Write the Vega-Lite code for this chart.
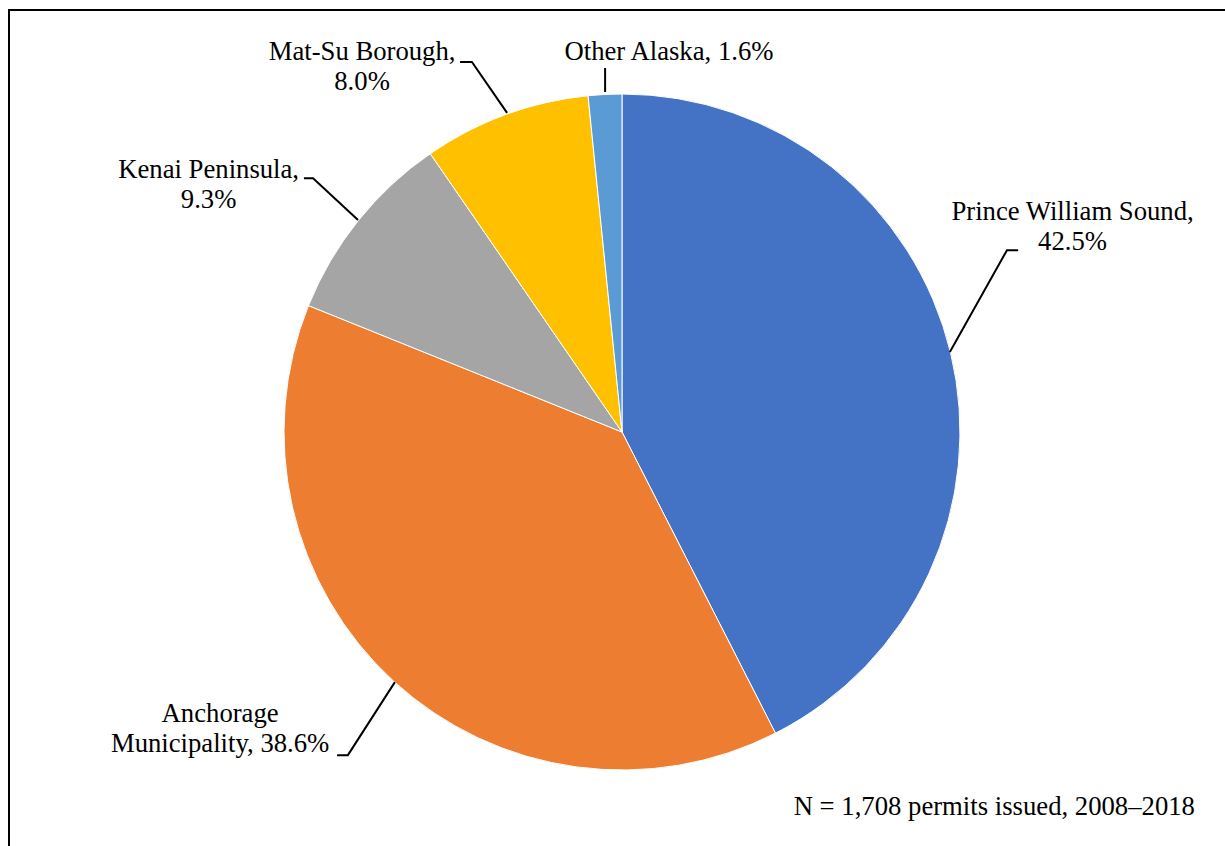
{
  "$schema": "https://vega.github.io/schema/vega-lite/v6.json",
  "width": 1226,
  "height": 844,
  "padding": {"left": 9, "top": 10, "right": 0, "bottom": 0},
  "background": "white",
  "config": {"view": {"stroke": "#000", "strokeWidth": 2}},
  "datasets": {
    "slices": [
      {"region": "Prince William Sound", "pct": 42.5, "ord": 1},
      {"region": "Anchorage Municipality", "pct": 38.6, "ord": 2},
      {"region": "Kenai Peninsula", "pct": 9.3, "ord": 3},
      {"region": "Mat-Su Borough", "pct": 8.0, "ord": 4},
      {"region": "Other Alaska", "pct": 1.6, "ord": 5}
    ],
    "leaders": [
      {"seg": "pws", "pt": 1, "lx": 117.2, "ly": 53.8},
      {"seg": "pws", "pt": 2, "lx": 113.9, "ly": 53.8},
      {"seg": "pws", "pt": 3, "lx": 97.0, "ly": 23.7},
      {"seg": "anc", "pt": 1, "lx": -84.3, "ly": -95.6},
      {"seg": "anc", "pt": 2, "lx": -81.1, "ly": -95.6},
      {"seg": "anc", "pt": 3, "lx": -67.2, "ly": -74.0},
      {"seg": "ken", "pt": 1, "lx": -94.1, "ly": 75.1},
      {"seg": "ken", "pt": 2, "lx": -91.4, "ly": 75.1},
      {"seg": "ken", "pt": 3, "lx": -78.1, "ly": 62.7},
      {"seg": "mat", "pt": 1, "lx": -47.9, "ly": 109.5},
      {"seg": "mat", "pt": 2, "lx": -44.4, "ly": 109.5},
      {"seg": "mat", "pt": 3, "lx": -34.0, "ly": 94.4},
      {"seg": "oth", "pt": 1, "lx": -5.0, "ly": 107.7},
      {"seg": "oth", "pt": 2, "lx": -5.0, "ly": 100.6}
    ],
    "labels": [
      {"txt": "Prince William Sound,\n42.5%", "lx": 133.3, "ly": 62.7},
      {"txt": "Anchorage\nMunicipality, 38.6%", "lx": -118.9, "ly": -85.8},
      {"txt": "Kenai Peninsula,\n9.3%", "lx": -122.3, "ly": 75.1},
      {"txt": "Mat-Su Borough,\n8.0%", "lx": -76.9, "ly": 110.1},
      {"txt": "Other Alaska, 1.6%", "lx": 13.9, "ly": 110.1}
    ],
    "notes": [
      {"txt": "N = 1,708 permits issued, 2008–2018", "lx": 169.5, "ly": -113.3}
    ]
  },
  "layer": [
    {
      "data": {"name": "slices"},
      "mark": {"type": "arc", "outerRadius": 338, "stroke": "white", "strokeWidth": 1},
      "encoding": {
        "theta": {"field": "pct", "type": "quantitative", "stack": true},
        "order": {"field": "ord", "type": "quantitative"},
        "color": {
          "field": "region",
          "type": "nominal",
          "scale": {
            "domain": ["Prince William Sound", "Anchorage Municipality", "Kenai Peninsula", "Mat-Su Borough", "Other Alaska"],
            "range": ["#4472C4", "#ED7D31", "#A5A5A5", "#FFC000", "#5B9BD5"]
          },
          "legend": null
        },
        "x": {"datum": 0, "type": "quantitative", "scale": {"domain": [-181.36, 181.36], "nice": false, "zero": false}, "axis": null},
        "y": {"datum": 0, "type": "quantitative", "scale": {"domain": [-124.85, 124.85], "nice": false, "zero": false}, "axis": null}
      }
    },
    {
      "data": {"name": "leaders"},
      "mark": {"type": "line", "color": "#000", "strokeWidth": 2},
      "encoding": {
        "x": {"field": "lx", "type": "quantitative"},
        "y": {"field": "ly", "type": "quantitative"},
        "detail": {"field": "seg", "type": "nominal"},
        "order": {"field": "pt", "type": "quantitative"}
      }
    },
    {
      "data": {"name": "labels"},
      "mark": {"type": "text", "font": "'Liberation Serif', 'Times New Roman', 'DejaVu Serif', serif", "fontSize": 26.7, "lineBreak": "\n", "lineHeight": 30, "align": "center", "baseline": "alphabetic", "color": "#000"},
      "encoding": {
        "x": {"field": "lx", "type": "quantitative"},
        "y": {"field": "ly", "type": "quantitative"},
        "text": {"field": "txt", "type": "nominal"}
      }
    },
    {
      "data": {"name": "notes"},
      "mark": {"type": "text", "font": "'Liberation Serif', 'Times New Roman', 'DejaVu Serif', serif", "fontSize": 26.7, "align": "right", "baseline": "alphabetic", "color": "#000"},
      "encoding": {
        "x": {"field": "lx", "type": "quantitative"},
        "y": {"field": "ly", "type": "quantitative"},
        "text": {"field": "txt", "type": "nominal"}
      }
    }
  ]
}
